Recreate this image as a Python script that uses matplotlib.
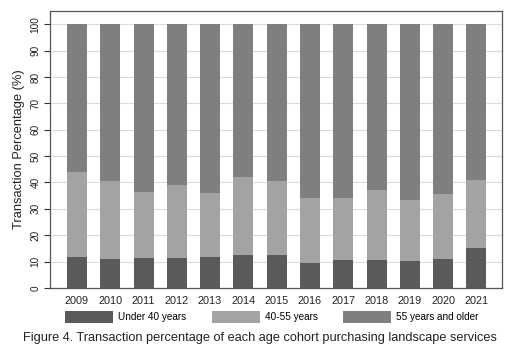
import matplotlib
matplotlib.use("Agg")
import matplotlib.pyplot as plt
import numpy as np

plt.rcParams['font.family'] = ['Liberation Sans', 'DejaVu Sans']

years = ["2009", "2010", "2011", "2012", "2013", "2014", "2015",
         "2016", "2017", "2018", "2019", "2020", "2021"]
under_40 = [11.7, 11.1, 11.5, 11.4, 11.7, 12.4, 12.4, 9.3, 10.5, 10.5, 10.1, 11.1, 15.0]
age_40_55 = [32.2, 29.5, 24.9, 27.6, 24.2, 29.6, 28.1, 25.0, 23.6, 26.6, 23.2, 24.5, 25.9]
over_55 = [56.1, 59.4, 63.6, 61.0, 64.1, 58.0, 59.5, 65.7, 65.9, 62.9, 66.7, 64.4, 59.1]
series_names = ["Under 40 years", "40-55 years", "55 years and older"]
y_ticks = [0, 10, 20, 30, 40, 50, 60, 70, 80, 90, 100]

colors = ["#5a5a5b", "#a3a3a3", "#7f7f80"]

W, H = 519, 350
fig = plt.figure(figsize=(W / 100, H / 100), dpi=100)
ax = fig.add_axes([50 / W, (H - 288) / H, 452 / W, 277 / H])

x = np.arange(len(years))
bottom = np.zeros(len(years))
bars = []
for vals, c, name in zip([under_40, age_40_55, over_55], colors, series_names):
    b = ax.bar(x, vals, width=0.6, bottom=bottom, color=c, label=name, zorder=3)
    bars.append(b)
    bottom += np.array(vals)

ax.set_xlim(-0.81, len(years) - 1 + 0.77)
ax.set_ylim(0, 105)
ax.set_xticks(x)
ax.set_xticklabels(years, fontsize=7.8)
ax.tick_params(axis='x', length=0, pad=6, colors='#222222')
ax.set_yticks(y_ticks)
ax.set_yticklabels([str(t) for t in y_ticks], rotation=90, va='center', fontsize=7.2)
ax.tick_params(axis='y', length=4, width=0.8, pad=3, colors='#333333', labelcolor='#222222')
ax.grid(axis='y', color='#dcdcdc', linewidth=0.8, zorder=0)
for s in ax.spines.values():
    s.set_color('#555555')
    s.set_linewidth(0.9)

ax.set_ylabel("Transaction Percentage (%)", fontsize=9.3, color='#222222', labelpad=4)

fig.legend(handles=bars, labels=series_names, loc='center left',
           bbox_to_anchor=(65 / W, 1 - 317 / H), ncol=3, frameon=False,
           fontsize=7.2, handlelength=4.8, handleheight=1.62, handletextpad=0.47,
           columnspacing=2.6, borderpad=0, borderaxespad=0)

fig.text(260 / W, 1 - 338 / H,
         "Figure 4. Transaction percentage of each age cohort purchasing landscape services",
         ha='center', va='center', fontsize=9.2, color='#222222')

fig.savefig("out.png", dpi=100)
